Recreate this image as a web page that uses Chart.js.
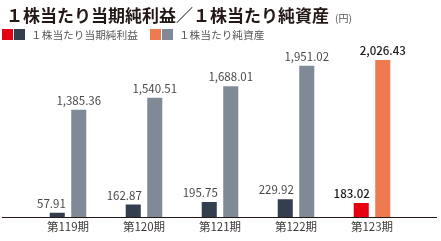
<!DOCTYPE html>
<html><head><meta charset="utf-8">
<script src="https://cdn.jsdelivr.net/npm/chart.js@4"></script>
<style>
html,body{margin:0;padding:0;background:#fff;width:441px;height:241px;overflow:hidden;font-family:"Noto Sans CJK JP","Noto Sans",sans-serif;}
#wrap{position:relative;width:441px;height:241px;}
#title{position:absolute;left:6px;top:2px;font-size:17px;font-weight:bold;color:#231815;white-space:nowrap;letter-spacing:0px;}
#title span{font-size:10px;font-weight:normal;color:#595757;margin-left:6px;}
#legend{position:absolute;left:2px;top:27px;font-size:10.7px;color:#595757;white-space:nowrap;display:flex;align-items:center;}
.sq{display:inline-block;width:11px;height:11px;margin-right:1px;}
.lt{margin-left:5px;margin-right:12px;}
canvas{position:absolute;left:0;top:0;}
</style></head>
<body><div id="wrap">
<canvas id="c" width="441" height="241"></canvas>
<div id="title">１株当たり当期純利益／１株当たり純資産<span>(円)</span></div>
<div id="legend"><i class="sq" style="background:#e60012"></i><i class="sq" style="background:#333f4f"></i><span class="lt">１株当たり当期純利益</span><i class="sq" style="background:#ef7a50"></i><i class="sq" style="background:#808a96"></i><span class="lt">１株当たり純資産</span></div>
</div>
<script>
const categories = ["第119期","第120期","第121期","第122期","第123期"];
const epsValues = [57.91, 162.87, 195.75, 229.92, 183.02];
const bpsValues = [1385.36, 1540.51, 1688.01, 1951.02, 2026.43];
const seriesNames = ["１株当たり当期純利益","１株当たり純資産"];

const epsColors = ["#333f4f","#333f4f","#333f4f","#333f4f","#e60012"];
const bpsColors = ["#808a96","#808a96","#808a96","#808a96","#ef7a50"];
const FONT = '"Noto Sans CJK JP","Noto Sans",sans-serif';
const fmt = v => v.toLocaleString('en-US',{minimumFractionDigits:2,maximumFractionDigits:2});

const labelPlugin = {
  id:'valueLabels',
  afterDatasetsDraw(chart){
    const ctx = chart.ctx;
    ctx.save();
    ctx.textBaseline = 'alphabetic';
    chart.data.datasets.forEach((ds,di)=>{
      const meta = chart.getDatasetMeta(di);
      meta.data.forEach((bar,i)=>{
        const last = i === ds.data.length-1;
        ctx.font = (last ? '500 ' : '400 ') + '11.5px ' + FONT;
        ctx.fillStyle = last ? '#1a1a1a' : '#4a4a4a';
        const txt = fmt(ds.data[i]);
        if(di===0){
          ctx.textAlign='right';
          ctx.fillText(txt, bar.x + bar.width/2 + 1, bar.y - 5);
        } else {
          ctx.textAlign='center';
          ctx.fillText(txt, bar.x, bar.y - 5);
        }
      });
    });
    ctx.restore();
  }
};
const baselinePlugin = {
  id:'baseline',
  afterDatasetsDraw(chart){
    const y = Math.round(chart.scales.y.getPixelForValue(0)) + 0.5;
    const ctx = chart.ctx;
    ctx.save();
    ctx.strokeStyle = '#231815';
    ctx.lineWidth = 1.2;
    ctx.beginPath();
    ctx.moveTo(2,y); ctx.lineTo(437,y);
    ctx.stroke();
    ctx.restore();
  }
};

new Chart(document.getElementById('c'),{
  type:'bar',
  data:{
    labels:categories,
    datasets:[
      {label:seriesNames[0],data:epsValues,backgroundColor:epsColors},
      {label:seriesNames[1],data:bpsValues,backgroundColor:bpsColors}
    ]
  },
  options:{
    responsive:false,
    animation:false,
    devicePixelRatio:1,
    categoryPercentage:0.566,
    barPercentage:0.7,
    layout:{padding:{left:30,right:31,top:31,bottom:4}},
    plugins:{legend:{display:false},tooltip:{enabled:false},title:{display:false}},
    scales:{
      x:{
        grid:{display:false,drawTicks:false},
        border:{display:false},
        ticks:{color:'#3e3a39',font:{family:FONT,size:11.5},padding:3,maxRotation:0}
      },
      y:{display:false,min:0,max:2400}
    }
  },
  plugins:[labelPlugin,baselinePlugin]
});
</script>
</body></html>
